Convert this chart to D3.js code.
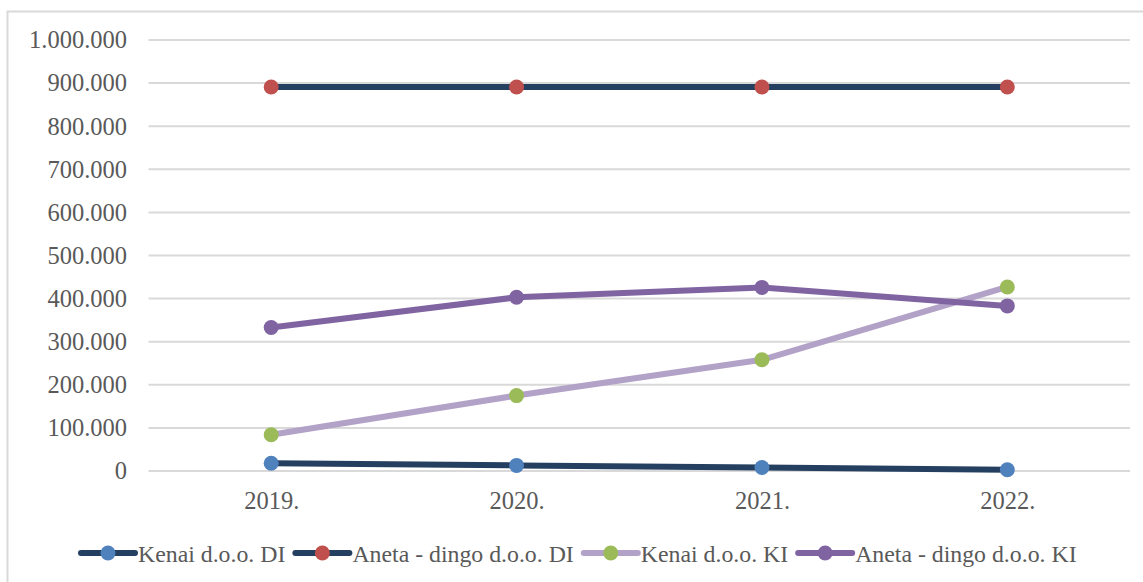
<!DOCTYPE html>
<html>
<head>
<meta charset="utf-8">
<script src="https://cdn.jsdelivr.net/npm/d3@7"></script>
<style>
  body { margin: 0; background: #fff; }
  svg { display: block; }
</style>
</head>
<body>
<script>
// data
const years = ["2019.", "2020.", "2021.", "2022."];
const kenaiDI = [18000, 13000, 8000, 3000];
const anetaDI = [891000, 891000, 891000, 891000];
const kenaiKI = [84000, 175000, 258000, 427000];
const anetaKI = [333000, 403000, 426000, 383000];
const yTicks = [0, 100000, 200000, 300000, 400000, 500000, 600000, 700000, 800000, 900000, 1000000];

const series = [
  { name: "Kenai d.o.o. DI", values: kenaiDI, line: "#243f60", marker: "#4f81bd" },
  { name: "Aneta - dingo d.o.o. DI", values: anetaDI, line: "#243f60", marker: "#c0504d" },
  { name: "Kenai d.o.o. KI", values: kenaiKI, line: "#b3a2c7", marker: "#9bbb59" },
  { name: "Aneta - dingo d.o.o. KI", values: anetaKI, line: "#8064a2", marker: "#8064a2" }
];

const width = 1143, height = 582;
const svg = d3.select("body").append("svg")
    .attr("width", width)
    .attr("height", height);

// chart frame (only top and left edges show in the crop)
svg.append("path")
    .attr("d", "M7.5,582 V11.5 H1143")
    .attr("fill", "none")
    .attr("stroke", "#d9d9d9")
    .attr("stroke-width", 2);

const x = d3.scalePoint()
    .domain(years)
    .range([148.5, 1130])
    .padding(0.5);

const y = d3.scaleLinear()
    .domain([0, 1000000])
    .range([471, 40]);

const fmt = v => d3.format(",")(v).replace(/,/g, ".");

// gridlines
svg.append("g")
    .selectAll("line")
    .data(yTicks)
    .join("line")
    .attr("x1", 148.5)
    .attr("x2", 1130)
    .attr("y1", d => y(d))
    .attr("y2", d => y(d))
    .attr("stroke", "#d9d9d9")
    .attr("stroke-width", 2);

// y axis labels
const yAxis = d3.axisLeft(y).tickValues(yTicks).tickFormat(fmt).tickSize(0).tickPadding(22);
svg.append("g")
    .attr("transform", "translate(149,0)")
    .call(yAxis)
    .call(g => g.select(".domain").remove())
    .selectAll("text")
    .attr("font-family", "Liberation Serif")
    .attr("font-size", 24.5)
    .attr("fill", "#595959");

// x axis labels
const xAxis = d3.axisBottom(x).tickSize(0).tickPadding(21);
svg.append("g")
    .attr("transform", "translate(0,471)")
    .call(xAxis)
    .call(g => g.select(".domain").remove())
    .selectAll("text")
    .attr("font-family", "Liberation Serif")
    .attr("font-size", 24.5)
    .attr("fill", "#595959");

// lines and markers
const line = d3.line()
    .x((d, i) => x(years[i]))
    .y(d => y(d));

series.forEach(function (s) {
    const g = svg.append("g");
    g.append("path")
        .datum(s.values)
        .attr("d", line)
        .attr("fill", "none")
        .attr("stroke", s.line)
        .attr("stroke-width", 6)
        .attr("stroke-linejoin", "round")
        .attr("stroke-linecap", "round");
    g.selectAll("circle")
        .data(s.values)
        .join("circle")
        .attr("cx", (d, i) => x(years[i]))
        .attr("cy", d => y(d))
        .attr("r", 7.5)
        .attr("fill", s.marker);
});

// legend
const legend = svg.append("g").attr("transform", "translate(0,553)");
let lx = 81;
series.forEach(function (s) {
    const item = legend.append("g").attr("transform", "translate(" + lx + ",0)");
    item.append("line")
        .attr("x1", 0).attr("x2", 54)
        .attr("y1", 0).attr("y2", 0)
        .attr("stroke", s.line)
        .attr("stroke-width", 6)
        .attr("stroke-linecap", "round");
    item.append("circle")
        .attr("cx", 27).attr("cy", 0)
        .attr("r", 7.5)
        .attr("fill", s.marker);
    const t = item.append("text")
        .attr("x", 57)
        .attr("y", 8.5)
        .attr("font-family", "Liberation Serif")
        .attr("font-size", 23.8)
        .attr("fill", "#595959")
        .text(s.name);
    lx += 57 + t.node().getComputedTextLength() + 10;
});
</script>
</body>
</html>
